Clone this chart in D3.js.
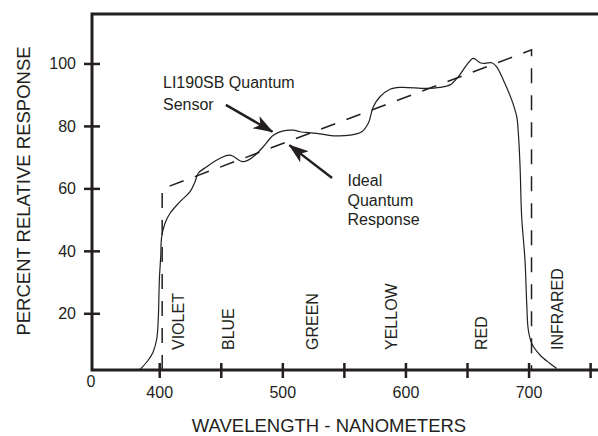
<!DOCTYPE html>
<html>
<head>
<meta charset="utf-8">
<script src="https://cdn.jsdelivr.net/npm/d3@7"></script>
<style>
  body { margin: 0; background: #fff; }
  svg text { font-family: "Liberation Sans", Arial, Helvetica, sans-serif; fill: #231f20; }
</style>
</head>
<body>
<svg width="598" height="436"></svg>
<script>
// Sensor response curve (wavelength in nm, percent relative response)
const wavelength = [384, 390, 394.5, 397.6, 398.9, 399.7, 400.8, 401.6, 404.3, 408.4, 416.5, 424.6, 428.7, 431.3,
  438.2, 449, 457.1, 467.9, 476, 484.1, 492.3, 500.4, 508.5, 514, 527.5, 541, 554.6, 564.1, 569.4,
  573.5, 578.9, 587.1, 595.2, 616.8, 627.7, 635.8, 642.5, 649.4, 654.7, 660.2, 664.2, 669.7, 673.7,
  679.1, 685.9, 690, 691.3, 692.7, 694, 696.7, 698.1, 699.4, 702.2, 708.9, 717, 722.5];
const response = [2.2, 4.8, 7.6, 12, 19, 30.8, 38.3, 44.7, 49, 52.2, 55.9, 59.1, 62.3, 65,
  67.1, 69.8, 70.8, 68.7, 70.3, 73.5, 77.2, 78.6, 78.8, 78.3, 77.8, 77, 77.2, 78.3, 81,
  86.3, 89.5, 91.9, 92.5, 92.2, 92.5, 93.3, 95.9, 99.7, 101.8, 100.4, 100.2, 100.4, 99.1,
  94.9, 88.5, 83.1, 77.8, 67.1, 51.1, 37.2, 23.4, 14.8, 10.5, 6.8, 4.1, 2.5];

// Ideal quantum response (dashed)
const idealWavelength = [402, 402, 702, 702];
const idealResponse = [2, 60, 104.5, 2];

// Axis ticks
const yTicks = [20, 40, 60, 80, 100];
const xTicks = [400, 450, 500, 550, 600, 650, 700, 750];
const xTickLabels = [400, 500, 600, 700];

// Colour band labels
const bandNames = ["VIOLET", "BLUE", "GREEN", "YELLOW", "RED", "INFRARED"];
const bandCenters = [415, 455.5, 524.5, 588, 661, 723.5];

const svg = d3.select("svg");
const ink = "#231f20";

const x = d3.scaleLinear().domain([345, 756]).range([92, 598]);
const y = d3.scaleLinear().domain([2, 116]).range([370, 14]);

// frame: left spine, top border, bottom axis
svg.append("path")
  .attr("d", `M${x(756)},${y(116)}H${x(345)}V${y(2)}H${x(756)}`)
  .attr("fill", "none")
  .attr("stroke", ink)
  .attr("stroke-width", 3);

// y ticks + labels
svg.selectAll(".ytick").data(yTicks).enter().append("line")
  .attr("x1", x(345) - 8).attr("x2", x(345) + 8)
  .attr("y1", d => y(d)).attr("y2", d => y(d))
  .attr("stroke", ink).attr("stroke-width", 2.5);

svg.selectAll(".ylab").data(yTicks).enter().append("text")
  .attr("x", 76).attr("y", d => y(d) + 5.5)
  .attr("text-anchor", "end")
  .attr("font-size", 16)
  .text(d => d);

// x ticks + labels
svg.selectAll(".xtick").data(xTicks).enter().append("line")
  .attr("x1", d => x(d)).attr("x2", d => x(d))
  .attr("y1", y(2) - 7).attr("y2", y(2) + 8)
  .attr("stroke", ink).attr("stroke-width", 2.5);

svg.selectAll(".xlab").data(xTickLabels).enter().append("text")
  .attr("x", d => x(d)).attr("y", 397.5)
  .attr("text-anchor", "middle")
  .attr("font-size", 16)
  .text(d => d);

svg.append("text")
  .attr("x", x(345) - 1).attr("y", 387)
  .attr("text-anchor", "middle")
  .attr("font-size", 16)
  .text("0");

// axis titles
svg.append("text")
  .attr("x", 329).attr("y", 432)
  .attr("text-anchor", "middle")
  .attr("font-size", 18.5)
  .text("WAVELENGTH - NANOMETERS");

svg.append("text")
  .attr("transform", "translate(30,191) rotate(-90)")
  .attr("text-anchor", "middle")
  .attr("font-size", 18.5)
  .text("PERCENT RELATIVE RESPONSE");

// band labels
svg.selectAll(".band").data(bandNames).enter().append("text")
  .attr("transform", (d, i) => `translate(${x(bandCenters[i])},350) rotate(-90)`)
  .attr("dominant-baseline", "central")
  .attr("font-size", 16)
  .text(d => d);

// ideal dashed line
const idealLine = d3.line()
  .x(i => x(idealWavelength[i]))
  .y(i => y(idealResponse[i]));

svg.append("path")
  .attr("d", idealLine(d3.range(idealWavelength.length)))
  .attr("fill", "none")
  .attr("stroke", ink)
  .attr("stroke-width", 1.5)
  .attr("stroke-dasharray", "15,12");

// sensor curve
const sensorLine = d3.line()
  .x(i => x(wavelength[i]))
  .y(i => y(response[i]))
  .curve(d3.curveCatmullRom.alpha(0.5));

svg.append("path")
  .attr("d", sensorLine(d3.range(wavelength.length)))
  .attr("fill", "none")
  .attr("stroke", ink)
  .attr("stroke-width", 1.2);

// annotations
const arrows = [
  { from: [453.7, 86.9], to: [491.6, 78.3] },
  { from: [540, 63.5], to: [505.3, 74.0] }
];

svg.append("defs").append("marker")
  .attr("id", "head")
  .attr("viewBox", "0 0 20 14")
  .attr("refX", 19).attr("refY", 7)
  .attr("markerWidth", 20).attr("markerHeight", 14)
  .attr("markerUnits", "userSpaceOnUse")
  .attr("orient", "auto")
  .append("path")
  .attr("d", "M0,0L20,7L0,14L5,7Z")
  .attr("fill", ink);

svg.selectAll(".arrow").data(arrows).enter().append("line")
  .attr("x1", d => x(d.from[0])).attr("y1", d => y(d.from[1]))
  .attr("x2", d => x(d.to[0])).attr("y2", d => y(d.to[1]))
  .attr("stroke", ink)
  .attr("stroke-width", 2.4)
  .attr("marker-end", "url(#head)");

const sensorNote = ["LI190SB Quantum", "Sensor"];
svg.selectAll(".note1").data(sensorNote).enter().append("text")
  .attr("x", 163).attr("y", (d, i) => 88 + i * 21.5)
  .attr("font-size", 16)
  .text(d => d);

const idealNote = ["Ideal", "Quantum", "Response"];
svg.selectAll(".note2").data(idealNote).enter().append("text")
  .attr("x", 347.5).attr("y", (d, i) => 186 + i * 19.5)
  .attr("font-size", 16)
  .text(d => d);
</script>
</body>
</html>
